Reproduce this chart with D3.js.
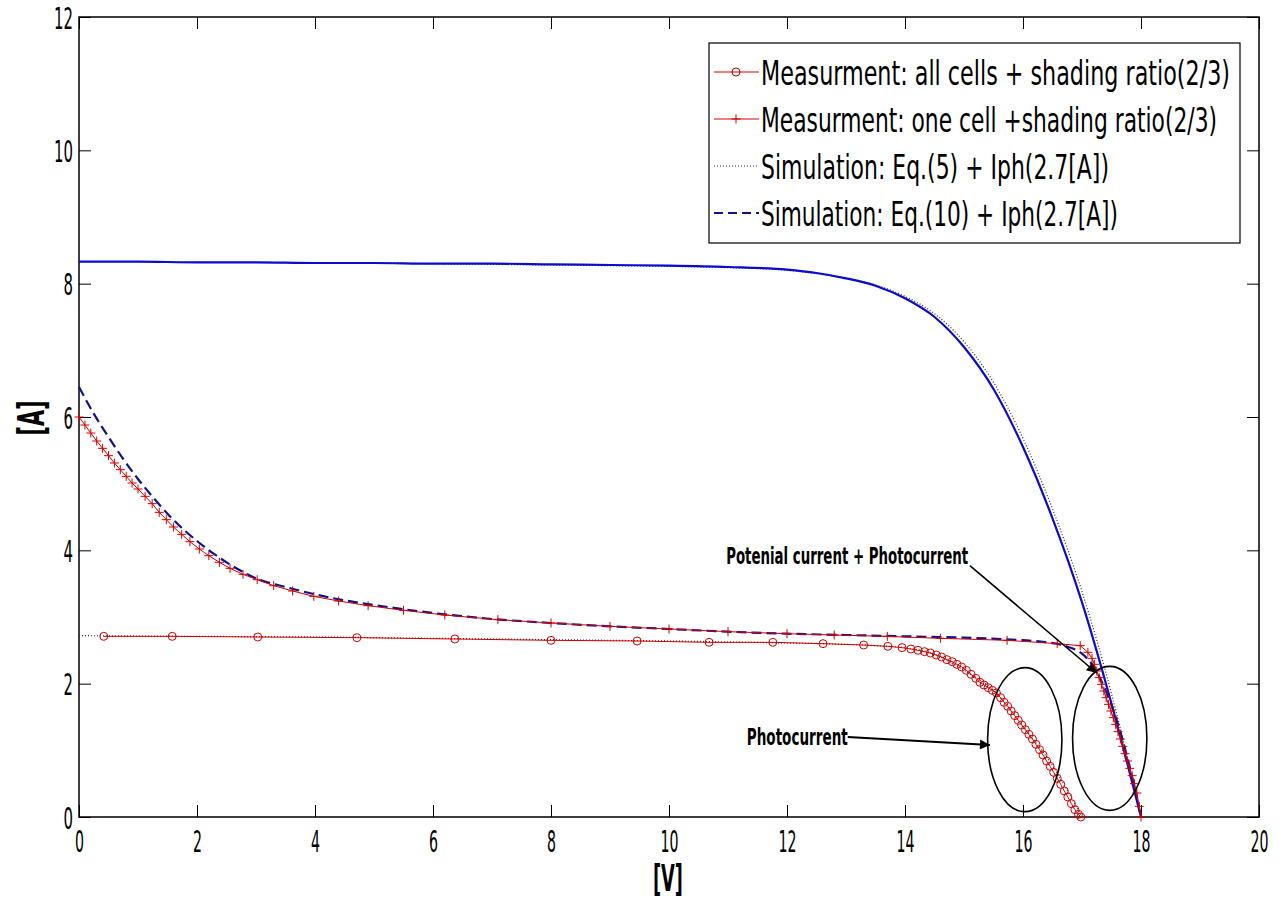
<!DOCTYPE html>
<html><head><meta charset="utf-8">
<script src="https://cdn.jsdelivr.net/npm/d3@7"></script>
<style>
html,body{margin:0;padding:0;background:#fff;}
svg{display:block;}
text{font-family:"DejaVu Sans Condensed","DejaVu Sans",sans-serif;font-stretch:condensed;}
</style></head>
<body>
<svg id="chart" width="1281" height="907"></svg>
<script>
// ---------- data ----------
const xTicks = [0,2,4,6,8,10,12,14,16,18,20];
const yTicks = [0,2,4,6,8,10,12];

// upper curves (Eq.5 dotted and blue solid)
const upperV = [0,1,2,3,4,5,6,7,8,9,10,11,12,12.5,13,13.5,14,14.5,15,15.5,16,16.5,17,17.5,18];
const blueSolidI = [8.33,8.33,8.32,8.32,8.31,8.31,8.30,8.30,8.29,8.28,8.27,8.25,8.21,8.16,8.08,7.97,7.78,7.50,7.05,6.42,5.55,4.48,3.22,1.70,0];
const dottedUpperI = [8.33,8.33,8.32,8.32,8.31,8.31,8.30,8.29,8.28,8.27,8.26,8.24,8.20,8.15,8.08,7.98,7.81,7.55,7.13,6.52,5.68,4.62,3.38,1.85,0];

// lower Eq.5 dotted curve (Iph 2.7 A)
const dottedLowV = [0,2,4,6,8,10,12,13,13.5,14,14.5,15,15.5,16,16.5,17];
const dottedLowI = [2.72,2.71,2.70,2.68,2.66,2.64,2.61,2.59,2.57,2.54,2.44,2.20,1.90,1.36,0.77,0];

// measurement: all cells (circles)
const circV = [0.42,1.58,3.03,4.71,6.37,8.0,9.46,10.68,11.76,12.61,13.3,13.71,
  13.95,14.10,14.22,14.33,14.43,14.53,14.62,14.71,14.80,14.88,14.96,15.04,15.12,15.20,15.27,15.34,15.41,15.48,15.55,15.62,
  15.68,15.74,15.80,15.86,15.92,15.98,16.04,16.10,16.16,16.22,16.28,16.34,16.40,16.46,16.52,16.58,16.64,16.70,16.76,16.82,
  16.88,16.94,16.98];
const circI = [2.71,2.71,2.70,2.69,2.67,2.65,2.64,2.62,2.62,2.60,2.58,2.56,
  2.54,2.52,2.50,2.48,2.46,2.43,2.40,2.36,2.33,2.29,2.25,2.20,2.14,2.08,2.02,1.98,1.94,1.90,1.86,1.79,
  1.72,1.66,1.59,1.52,1.45,1.38,1.31,1.24,1.17,1.09,1.01,0.93,0.84,0.76,0.67,0.58,0.49,0.39,0.30,0.20,
  0.11,0.04,0.0];

// measurement: one cell (plus)
const plusV = [0.00,0.10,0.20,0.30,0.40,0.50,0.60,0.70,0.80,0.90,1.00,1.12,1.24,1.36,1.48,1.60,1.74,1.88,2.04,2.20,2.38,
  2.56,2.78,3.02,3.30,3.62,3.98,4.40,4.90,5.50,6.20,7.10,8.00,9.00,10.00,11.00,12.00,12.80,13.70,14.60,15.73,
  16.58,16.97,17.10,17.17,17.21,17.25,17.29,17.33,17.37,17.41,17.45,17.49,17.53,17.57,17.61,17.65,17.69,17.73,17.77,17.81,
  17.85,17.89,17.93,17.97,18.00];
const plusI = [6.00,5.88,5.76,5.64,5.53,5.42,5.31,5.21,5.11,5.01,4.92,4.81,4.70,4.57,4.46,4.35,4.24,4.13,4.02,3.92,3.82,
  3.73,3.64,3.56,3.47,3.39,3.31,3.24,3.17,3.10,3.03,2.96,2.91,2.86,2.82,2.78,2.75,2.73,2.71,2.68,2.65,
  2.60,2.57,2.47,2.38,2.29,2.19,2.09,1.99,1.89,1.79,1.69,1.59,1.49,1.39,1.28,1.17,1.06,0.95,0.84,0.73,
  0.62,0.50,0.36,0.16,0.00];

// simulation Eq.10 (blue dashed)
const dashV = [0.00,0.25,0.50,0.75,1.00,1.25,1.50,1.75,2.00,2.25,2.50,2.75,3.00,3.50,4.00,4.50,5.00,6.00,7.00,8.00,9.00,10.00,11.00,12.00,13.00,14.00,15.00,15.80,16.30,16.70,17.00,17.20,17.40,17.60,17.80,18.00];
const dashI = [6.45,6.05,5.70,5.37,5.07,4.80,4.55,4.33,4.14,3.97,3.82,3.69,3.58,3.45,3.34,3.25,3.18,3.06,2.97,2.91,2.86,2.82,2.78,2.75,2.73,2.71,2.69,2.66,2.63,2.57,2.45,2.25,1.90,1.42,0.78,0.00];

const legendLabels = [
  "Measurment: all cells + shading ratio(2/3)",
  "Measurment: one cell +shading ratio(2/3)",
  "Simulation: Eq.(5) + Iph(2.7[A])",
  "Simulation: Eq.(10) + Iph(2.7[A])"
];
const legendWidths = [469, 456, 348, 357];

// ---------- drawing ----------
const svg = d3.select("#chart");
const L = 79, R = 1259, T = 17, B = 817;
const x = d3.scaleLinear().domain([0,20]).range([L,R]);
const y = d3.scaleLinear().domain([0,12]).range([B,T]);

const red = "#d40000", blue = "#0a0ad0", navy = "#101090", dotc = "#3a2a20";

const zip = (a,b) => a.map((v,i)=>[v,b[i]]);
const line = d3.line().x(d=>x(d[0])).y(d=>y(d[1])).curve(d3.curveMonotoneX);
const lineLin = d3.line().x(d=>x(d[0])).y(d=>y(d[1]));

// frame
svg.append("rect").attr("x",L).attr("y",T).attr("width",R-L).attr("height",B-T)
  .attr("fill","#fff").attr("stroke","#000").attr("stroke-width",1.5);

const fs = 31;
function styleTicks(g, labels){
  g.select(".domain").remove();
  g.selectAll(".tick line").attr("stroke","#000").attr("stroke-width",1);
  if(!labels) g.selectAll(".tick text").remove();
}
const gx = svg.append("g").attr("transform",`translate(0,${B})`)
  .call(d3.axisBottom(x).tickValues(xTicks).tickSizeInner(-12).tickSizeOuter(0).tickFormat(d3.format("d")));
styleTicks(gx,true);
gx.selectAll(".tick text").attr("y",35).attr("dy",null).attr("font-size",fs).attr("fill","#000")
  .attr("textLength",d=>String(d).length*9).attr("lengthAdjust","spacingAndGlyphs");
const gxt = svg.append("g").attr("transform",`translate(0,${T})`)
  .call(d3.axisTop(x).tickValues(xTicks).tickSizeInner(-12).tickSizeOuter(0));
styleTicks(gxt,false);
const gy = svg.append("g").attr("transform",`translate(${L},0)`)
  .call(d3.axisLeft(y).tickValues(yTicks).tickSizeInner(-12).tickSizeOuter(0).tickFormat(d3.format("d")));
styleTicks(gy,true);
gy.selectAll(".tick text").attr("x",-6).attr("dy","0.36em").attr("font-size",fs).attr("fill","#000")
  .attr("textLength",d=>String(d).length*9.5).attr("lengthAdjust","spacingAndGlyphs");
const gyr = svg.append("g").attr("transform",`translate(${R},0)`)
  .call(d3.axisRight(y).tickValues(yTicks).tickSizeInner(-12).tickSizeOuter(0));
styleTicks(gyr,false);

// axis titles
svg.append("text").attr("x",668).attr("y",891).attr("text-anchor","middle")
  .attr("font-size",38).attr("font-weight","bold").attr("textLength",30).attr("lengthAdjust","spacingAndGlyphs").text("[V]");
svg.append("text").attr("transform",`translate(44,${418}) rotate(-90)`).attr("text-anchor","middle")
  .attr("font-size",38).attr("font-weight","bold").attr("textLength",35).attr("lengthAdjust","spacingAndGlyphs").text("[A]");

const plot = svg.append("g");
// Eq.5 dotted curves
plot.append("path").attr("d",line(zip(upperV,dottedUpperI))).attr("fill","none")
  .attr("stroke",dotc).attr("stroke-width",1.2).attr("stroke-dasharray","1,2");
plot.append("path").attr("d",line(zip(dottedLowV,dottedLowI))).attr("fill","none")
  .attr("stroke",dotc).attr("stroke-width",1.2).attr("stroke-dasharray","1,2");
// blue solid
plot.append("path").attr("d",line(zip(upperV,blueSolidI))).attr("fill","none")
  .attr("stroke",blue).attr("stroke-width",2.2);
// blue dashed
plot.append("path").attr("d",line(zip(dashV,dashI))).attr("fill","none")
  .attr("stroke",navy).attr("stroke-width",2.2).attr("stroke-dasharray","10,5");
// red measurement lines
plot.append("path").attr("d",lineLin(zip(circV,circI))).attr("fill","none").attr("stroke",red).attr("stroke-width",1);
plot.append("path").attr("d",lineLin(zip(plusV,plusI))).attr("fill","none").attr("stroke",red).attr("stroke-width",1);
// markers
plot.selectAll("circle.m").data(zip(circV,circI)).join("circle").attr("class","m")
  .attr("cx",d=>x(d[0])).attr("cy",d=>y(d[1])).attr("r",4).attr("fill","none").attr("stroke",red).attr("stroke-width",1);
const ps = 4.5;
plot.selectAll("path.p").data(zip(plusV,plusI)).join("path").attr("class","p")
  .attr("d",d=>`M${x(d[0])-ps},${y(d[1])}H${x(d[0])+ps}M${x(d[0])},${y(d[1])-ps}V${y(d[1])+ps}`)
  .attr("stroke",red).attr("stroke-width",1).attr("fill","none");

// annotations
const defs = svg.append("defs");
defs.append("marker").attr("id","arr").attr("viewBox","0 0 10 10").attr("refX",10).attr("refY",5)
  .attr("markerWidth",14).attr("markerHeight",10).attr("markerUnits","userSpaceOnUse").attr("orient","auto")
  .append("path").attr("d","M0,0L10,5L0,10Z").attr("fill","#000");
const ellipses = [[16.03,1.16,0.63,1.08],[17.47,1.18,0.63,1.08]];
plot.selectAll("ellipse").data(ellipses).join("ellipse")
  .attr("cx",d=>x(d[0])).attr("cy",d=>y(d[1])).attr("rx",d=>x(d[2])-x(0)).attr("ry",d=>y(0)-y(d[3]))
  .attr("fill","none").attr("stroke","#000").attr("stroke-width",1.6);

svg.append("line").attr("x1",x(13.03)).attr("y1",y(1.2)).attr("x2",x(15.44)).attr("y2",y(1.08))
  .attr("stroke","#000").attr("stroke-width",2.2).attr("marker-end","url(#arr)");
svg.append("text").attr("x",x(13.03)).attr("y",y(1.2)+8).attr("text-anchor","end").attr("font-size",23)
  .attr("font-weight","bold").attr("textLength",101).attr("lengthAdjust","spacingAndGlyphs").text("Photocurrent");
svg.append("line").attr("x1",x(15.1)).attr("y1",y(3.77)).attr("x2",x(17.25)).attr("y2",y(2.16))
  .attr("stroke","#000").attr("stroke-width",1.6).attr("marker-end","url(#arr)");
svg.append("text").attr("x",x(13.02)).attr("y",y(3.91)+8).attr("text-anchor","middle").attr("font-size",23)
  .attr("font-weight","bold").attr("textLength",242).attr("lengthAdjust","spacingAndGlyphs").text("Potenial current + Photocurrent");

// legend
const lg = svg.append("g");
lg.append("rect").attr("x",709).attr("y",43).attr("width",531).attr("height",200)
  .attr("fill","#fff").attr("stroke","#000").attr("stroke-width",1.2);
const baselines = [85,132,179,226];
legendLabels.forEach((t,i)=>{
  const by = baselines[i], ly = by-13;
  lg.append("text").attr("x",761).attr("y",by).attr("font-size",34).attr("fill","#000")
    .attr("textLength",legendWidths[i]).attr("lengthAdjust","spacingAndGlyphs").text(t);
  const ln = lg.append("line").attr("x1",714).attr("x2",759).attr("y1",ly).attr("y2",ly);
  if(i===0){ ln.attr("stroke",red).attr("stroke-width",1);
    lg.append("circle").attr("cx",736).attr("cy",ly).attr("r",4).attr("fill","none").attr("stroke",red); }
  if(i===1){ ln.attr("stroke",red).attr("stroke-width",1);
    lg.append("path").attr("d",`M${736-ps},${ly}H${736+ps}M736,${ly-ps}V${ly+ps}`).attr("stroke",red); }
  if(i===2){ ln.attr("stroke",dotc).attr("stroke-width",1.2).attr("stroke-dasharray","1,2"); }
  if(i===3){ ln.attr("stroke",navy).attr("stroke-width",2).attr("stroke-dasharray","9,5"); }
});
</script>
</body></html>
